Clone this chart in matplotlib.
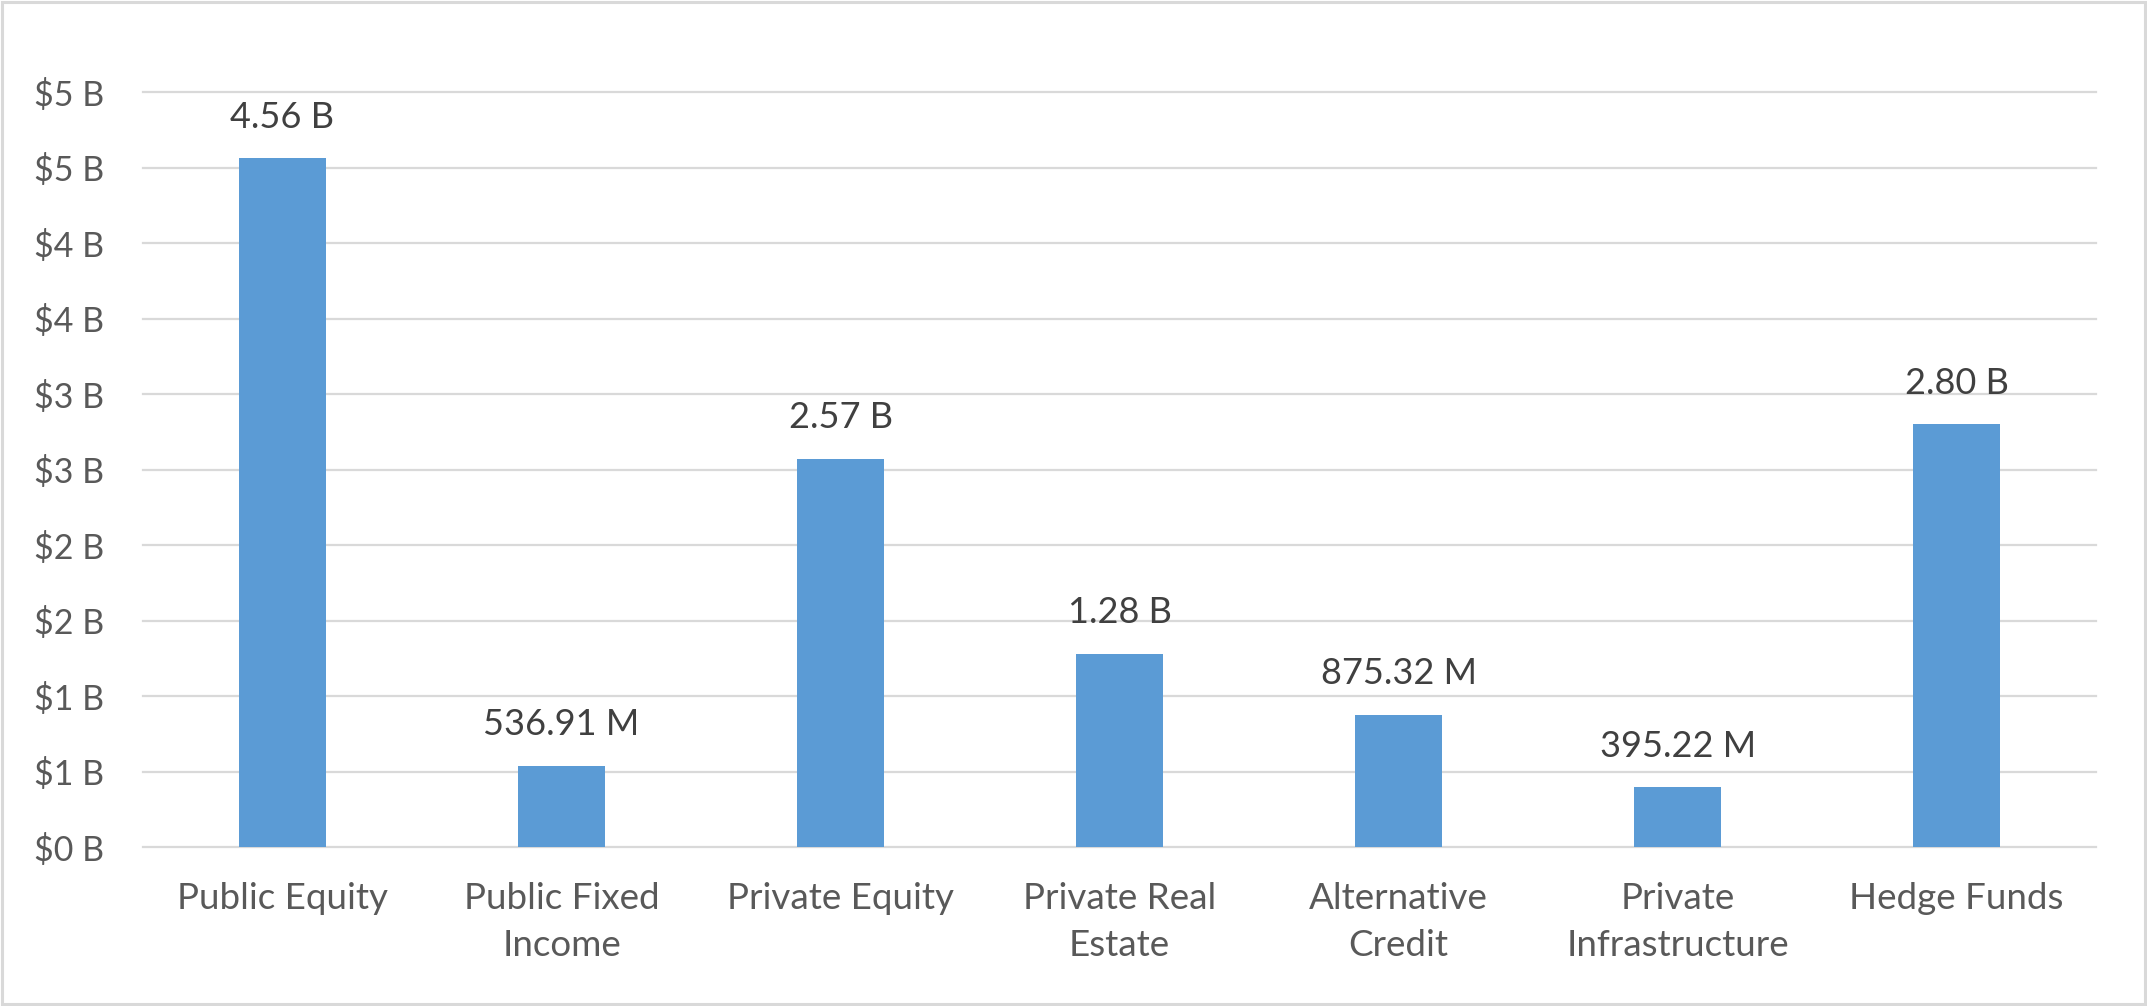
import matplotlib.pyplot as plt
from matplotlib.patches import Rectangle

# --- data (billions) ---
categories = ["Public Equity", "Public Fixed\nIncome", "Private Equity", "Private Real\nEstate",
              "Alternative\nCredit", "Private\nInfrastructure", "Hedge Funds"]
values_b = [4.56, 0.53691, 2.57, 1.28, 0.87532, 0.39522, 2.80]
value_labels = ["4.56 B", "536.91 M", "2.57 B", "1.28 B", "875.32 M", "395.22 M", "2.80 B"]
y_ticks = [0, 0.5, 1.0, 1.5, 2.0, 2.5, 3.0, 3.5, 4.0, 4.5, 5.0]
y_tick_labels = ["$0 B", "$1 B", "$1 B", "$2 B", "$2 B", "$3 B", "$3 B", "$4 B", "$4 B", "$5 B", "$5 B"]

plt.rcParams['font.family'] = ['Lato', 'DejaVu Sans']

fig = plt.figure(figsize=(21.47, 10.06), dpi=100)
ax = fig.add_axes([0.0666, 0.158, 0.9097, 0.7505])

x = range(len(categories))
ax.bar(x, values_b, width=0.314, color="#5B9BD5", zorder=3)

for xi, v, lab in zip(x, values_b, value_labels):
    ax.annotate(lab, (xi, v), xytext=(0, 22), textcoords="offset points",
                ha="center", va="baseline", fontsize=26, color="#404040")

ax.set_xlim(-0.5, len(categories) - 0.5)
ax.set_ylim(0, 5.0)
ax.set_yticks(y_ticks)
ax.set_yticklabels(y_tick_labels, fontsize=24.5, color="#595959")
ax.set_xticks(list(x))
ax.set_xticklabels(categories, fontsize=26.5, color="#595959", linespacing=1.52, va="top")
ax.tick_params(axis="both", length=0)
ax.tick_params(axis="y", pad=28)
ax.tick_params(axis="x", pad=25)

ax.yaxis.grid(True, color="#d9d9d9", linewidth=1.6, zorder=0)
for line in ax.get_ygridlines():
    line.set_clip_on(False)
for s in ax.spines.values():
    s.set_visible(False)

# chart area border
fig.patches.append(Rectangle((0.0007, 0.0015), 0.9986, 0.997, transform=fig.transFigure,
                             fill=False, edgecolor="#d9d9d9", linewidth=2.2))

fig.savefig("out.png", dpi=100, facecolor="white")
